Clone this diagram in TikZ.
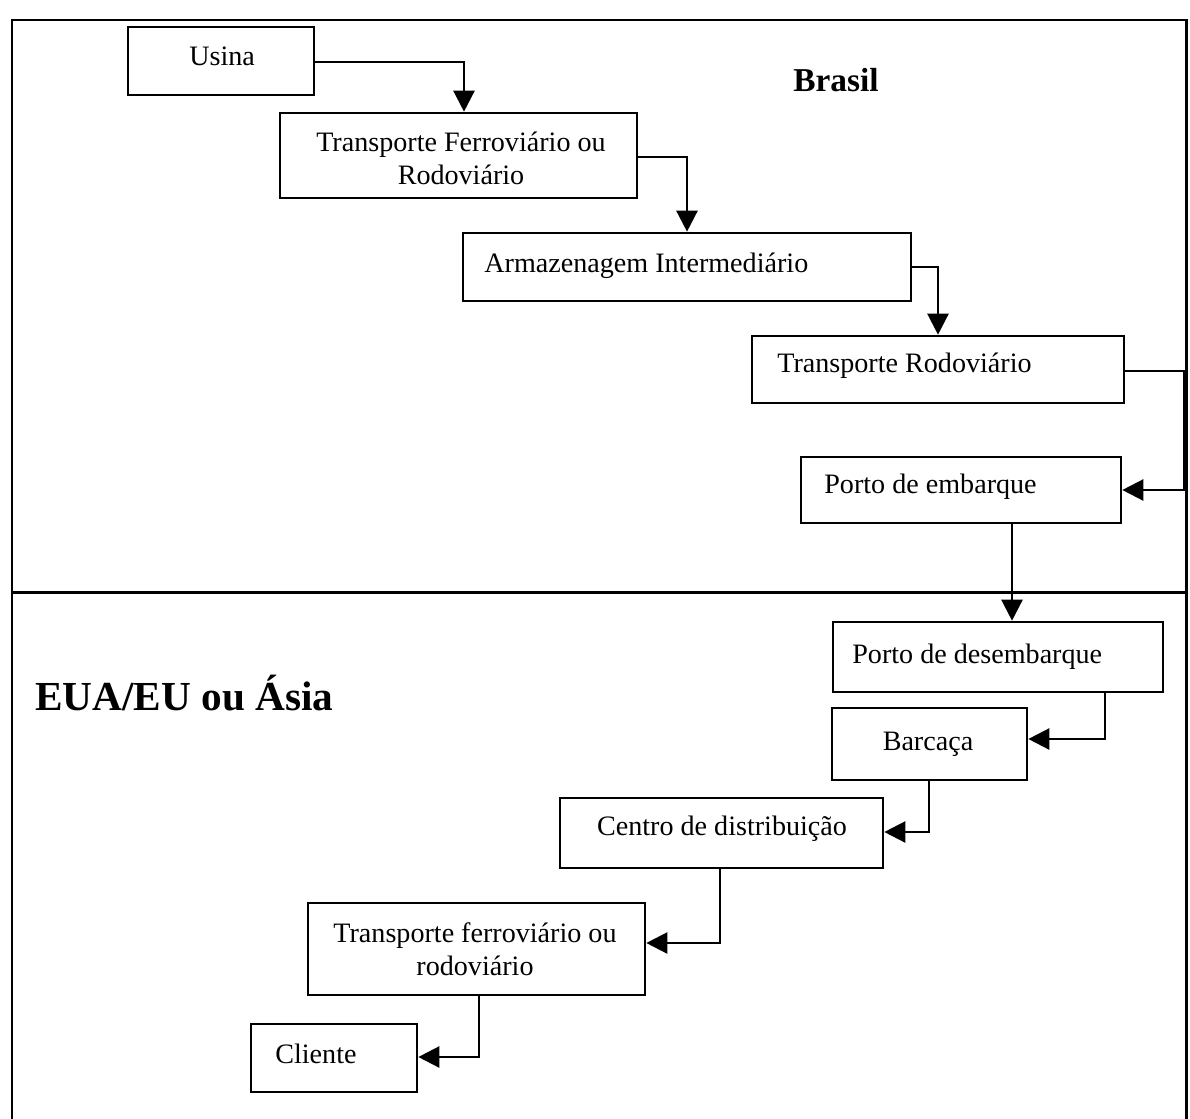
\documentclass[tikz,border=0pt]{standalone}
\usepackage{fontspec}
\setmainfont{Liberation Serif}
\usetikzlibrary{arrows.meta,positioning,fit}
\begin{document}
\begin{tikzpicture}[x=0.02cm,y=-0.02cm,
  box/.style={draw, line width=1.5pt, rectangle, inner sep=0pt},
  lbl/.style={font=\fontsize{16}{18.7}\selectfont, inner sep=0pt},
  lbltwo/.style={lbl, align=center},
  region/.style={font=\bfseries\fontsize{23.5}{27}\selectfont, inner sep=0pt},
  flow/.style={line width=1.4pt, -{Triangle[length=12pt,width=12pt]}},
  frame/.style={line width=1.7pt}]
\useasboundingbox (0,0) rectangle (1190,1119);

% outer frame and divider between the two regions
\draw[frame] (12,1119) -- (12,20) -- (1186,20) -- (1186,1119);
\draw[frame] (12,592) -- (1186,592);

% region titles
\node[region, font=\bfseries\fontsize{19}{22}\selectfont] (brasil) at (836,80) {Brasil};
\node[region, anchor=west] (exterior) at (35,693) {EUA/EU ou Ásia};

% Brazil chain
\node[box, fit={(128,27) (314,95)}] (usina) {};
\node[lbl, anchor=west] (tusina) at (189,56) {Usina};

\node[box, fit={(280,113) (637,198)}] (transp1) {};
\node[lbltwo] (ttransp1) at (461,158) {Transporte Ferroviário ou\\Rodoviário};

\node[box, fit={(463,233) (911,301)}] (armaz) {};
\node[lbl, anchor=west] (tarmaz) at (484,266) {Armazenagem Intermediário};

\node[box, fit={(752,336) (1124,403)}] (transp2) {};
\node[lbl, anchor=west] (ttransp2) at (777,366) {Transporte Rodoviário};

\node[box, fit={(801,457) (1121,523)}] (embarque) {};
\node[lbl, anchor=west] (tembarque) at (824,487) {Porto de embarque};

% abroad chain
\node[box, fit={(833,622) (1163,692)}] (desemb) {};
\node[lbl, anchor=west] (tdesemb) at (852,657) {Porto de desembarque};

\node[box, fit={(832,708) (1027,780)}] (barcaca) {};
\node[lbl] (tbarcaca) at (928,744) {Barcaça};

\node[box, fit={(560,798) (883,868)}] (centro) {};
\node[lbl] (tcentro) at (722,829) {Centro de distribuição};

\node[box, fit={(308,903) (645,995)}] (transp3) {};
\node[lbltwo] (ttransp3) at (475,949) {Transporte ferroviário ou\\rodoviário};

\node[box, fit={(251,1024) (417,1092)}] (cliente) {};
\node[lbl, anchor=west] (tcliente) at (275,1054) {Cliente};

% connectors
\draw[flow] (usina.east |- 0,62) -| (transp1.north -| 464,0);
\draw[flow] (transp1.east |- 0,157) -| (armaz.north -| 687,0);
\draw[flow] (armaz.east |- 0,267) -| (transp2.north -| 938,0);
\draw[flow] (transp2.east |- 0,371) -- (1184,371) |- (embarque.east |- 0,490);
\draw[flow] (embarque.south -| 1012,0) -- (desemb.north -| 1012,0);
\draw[flow] (desemb.south -| 1105,0) |- (barcaca.east |- 0,739);
\draw[flow] (barcaca.south -| 929,0) |- (centro.east |- 0,832);
\draw[flow] (centro.south -| 720,0) |- (transp3.east |- 0,943);
\draw[flow] (transp3.south -| 479,0) |- (cliente.east |- 0,1057);
\end{tikzpicture}
\end{document}
